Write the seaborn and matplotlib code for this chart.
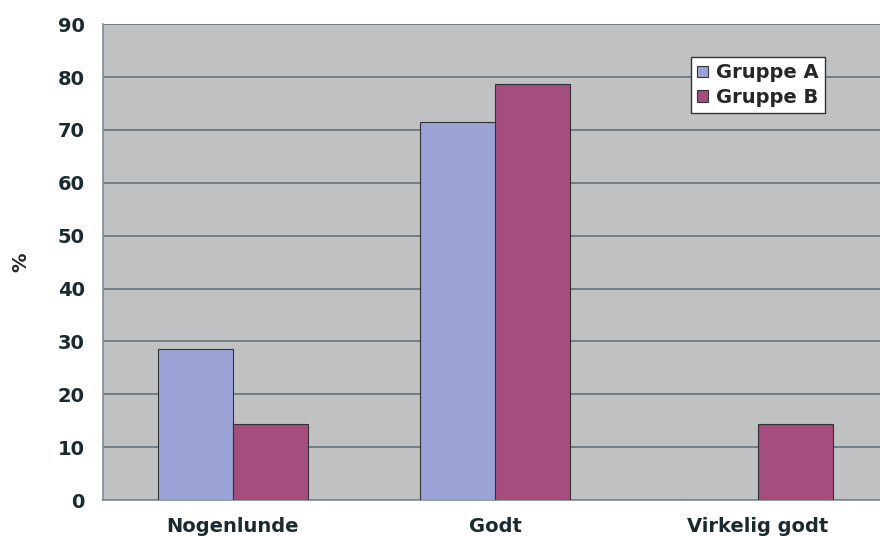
import pandas as pd
import matplotlib.pyplot as plt
import seaborn as sns

categories = ["Nogenlunde", "Godt", "Virkelig godt"]
gruppe_a = [28.6, 71.4, 0.0]
gruppe_b = [14.3, 78.6, 14.3]
groups = ["Gruppe A", "Gruppe B"]

df = pd.DataFrame({
    "kategori": categories * 2,
    "pct": gruppe_a + gruppe_b,
    "gruppe": [groups[0]] * 3 + [groups[1]] * 3,
})

sns.set_style("white")
plt.rcParams["font.family"] = ["DejaVu Sans"]
plt.rcParams["font.weight"] = "bold"

fig = plt.figure(figsize=(8.8, 5.36), dpi=100)
ax = fig.add_axes([0.117, 0.067, 0.883, 0.888])
ax.set_facecolor("#c0c1c3")

sns.barplot(data=df, x="kategori", y="pct", hue="gruppe",
            palette=["#9aa2d6", "#a54d7d"], saturation=1, width=0.572,
            edgecolor="#333333", linewidth=0.8, ax=ax, zorder=3)

ax.set_ylim(0, 90)
ax.set_yticks(range(0, 91, 10))
ax.set_xlim(-0.495, 2.465)
ax.set_xticks([0.5, 1.5], minor=True)
ax.yaxis.grid(True, color="#6a7880", linewidth=1.3, zorder=0)
ax.set_axisbelow(True)

for s in ["top", "right"]:
    ax.spines[s].set_visible(False)
for s in ["left", "bottom"]:
    ax.spines[s].set_color("#7d8c96")
    ax.spines[s].set_linewidth(1.2)

ax.tick_params(axis="y", length=5, color="#7d8c96", labelsize=14, pad=8,
               labelcolor="#1a2a30")
ax.tick_params(axis="x", which="major", length=0, labelsize=14, pad=12,
               labelcolor="#1a2a30")
ax.tick_params(axis="x", which="minor", length=5, color="#7d8c96", width=1.2)
for lab in ax.get_xticklabels() + ax.get_yticklabels():
    lab.set_fontweight("bold")

ax.set_xlabel("")
ax.set_ylabel("%", fontsize=14, fontweight="bold", labelpad=20)

leg = ax.legend(loc="upper left", bbox_to_anchor=(0.757, 0.93), frameon=True,
                fancybox=False, edgecolor="#333333", facecolor="white",
                framealpha=1, handlelength=0.55, handleheight=0.55,
                handletextpad=0.45, borderpad=0.3, labelspacing=0.3,
                borderaxespad=0, prop={"size": 14, "weight": "bold"})
leg.get_frame().set_linewidth(1.0)

fig.savefig("out.png", dpi=100)
